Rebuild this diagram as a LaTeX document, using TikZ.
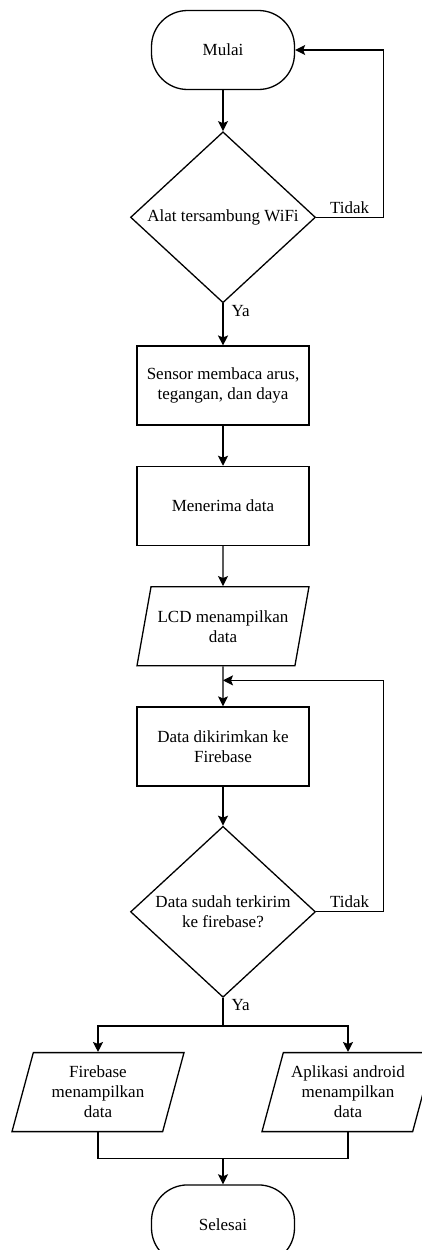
\documentclass[tikz,border=0pt]{standalone}
\usepackage{fontspec}
\setmainfont{Liberation Serif}
\usetikzlibrary{arrows.meta,positioning,shapes.geometric}

\begin{document}
\begin{tikzpicture}[
  x=1pt, y=-1pt,
  font=\fontsize{17}{20}\selectfont,
  >={Stealth[length=10pt,width=10pt,inset=2pt]},
  node distance=40pt,
  terminal/.style={draw, line width=1.3pt, rounded corners=36pt,
    minimum width=143pt, minimum height=79pt, align=center},
  process/.style={draw, line width=1.3pt, minimum width=172pt,
    minimum height=79pt, align=center},
  decision/.style={draw, diamond, aspect=1.1, inner sep=0pt, line width=1.3pt,
    minimum width=185pt, minimum height=171pt, align=center},
  io/.style={draw, trapezium, trapezium left angle=70, trapezium right angle=110,
    trapezium stretches body, line width=1.3pt, minimum width=172pt,
    minimum height=79pt, inner xsep=2pt, align=center},
  flow/.style={->, line width=1.3pt},
  link/.style={line width=1.3pt},
  answer/.style={inner sep=1pt}
]
\useasboundingbox (0,0) rectangle (422,1250);

\node[terminal] (mulai) at (223,50) {Mulai};
\node[decision, below=41pt of mulai] (wifi) {Alat tersambung WiFi};
\node[process, below=42pt of wifi] (sensor) {Sensor membaca arus,\\tegangan, dan daya};
\node[process, below=of sensor] (terima) {Menerima data};
\node[io, below=of terima] (lcd) {LCD menampilkan\\data};
\node[process, below=of lcd] (kirim) {Data dikirimkan ke\\Firebase};
\node[decision, below=39pt of kirim] (terkirim) {Data sudah terkirim\\ke firebase?};
\node[io, below=54pt of terkirim, xshift=-125pt] (fbtampil) {Firebase\\menampilkan\\data};
\node[io, below=54pt of terkirim, xshift=125pt] (apptampil) {Aplikasi android\\menampilkan\\data};
\node[terminal, below=52pt of fbtampil, xshift=125pt] (selesai) {Selesai};

\coordinate[below=14pt of lcd.south] (masuk);
\coordinate[above=26pt of selesai.north] (gabung);

\draw[flow] (mulai) -- (wifi);
\draw[flow] (wifi.east) -- node[above]{Tidak} ++(67,0) |- (mulai.east);
\draw[flow] (wifi.south) -- node[pos=0, anchor=north west, answer, xshift=7pt]{Ya} (sensor.north);
\draw[flow] (sensor) -- (terima);
\draw[flow] (terima) -- (lcd);
\draw[flow] (lcd) -- (kirim);
\draw[flow] (kirim) -- (terkirim);
\draw[flow] (terkirim.east) -- node[above]{Tidak} ++(67,0) |- (masuk);
\draw[flow] (terkirim.south) -- node[pos=0, anchor=north west, answer, xshift=7pt]{Ya} ++(0,28) -| (fbtampil.north);
\draw[flow] (terkirim.south) -- ++(0,28) -| (apptampil.north);
\draw[link] (fbtampil.south) |- (gabung) -| (apptampil.south);
\draw[flow] (gabung) -- (selesai);

\end{tikzpicture}
\end{document}
